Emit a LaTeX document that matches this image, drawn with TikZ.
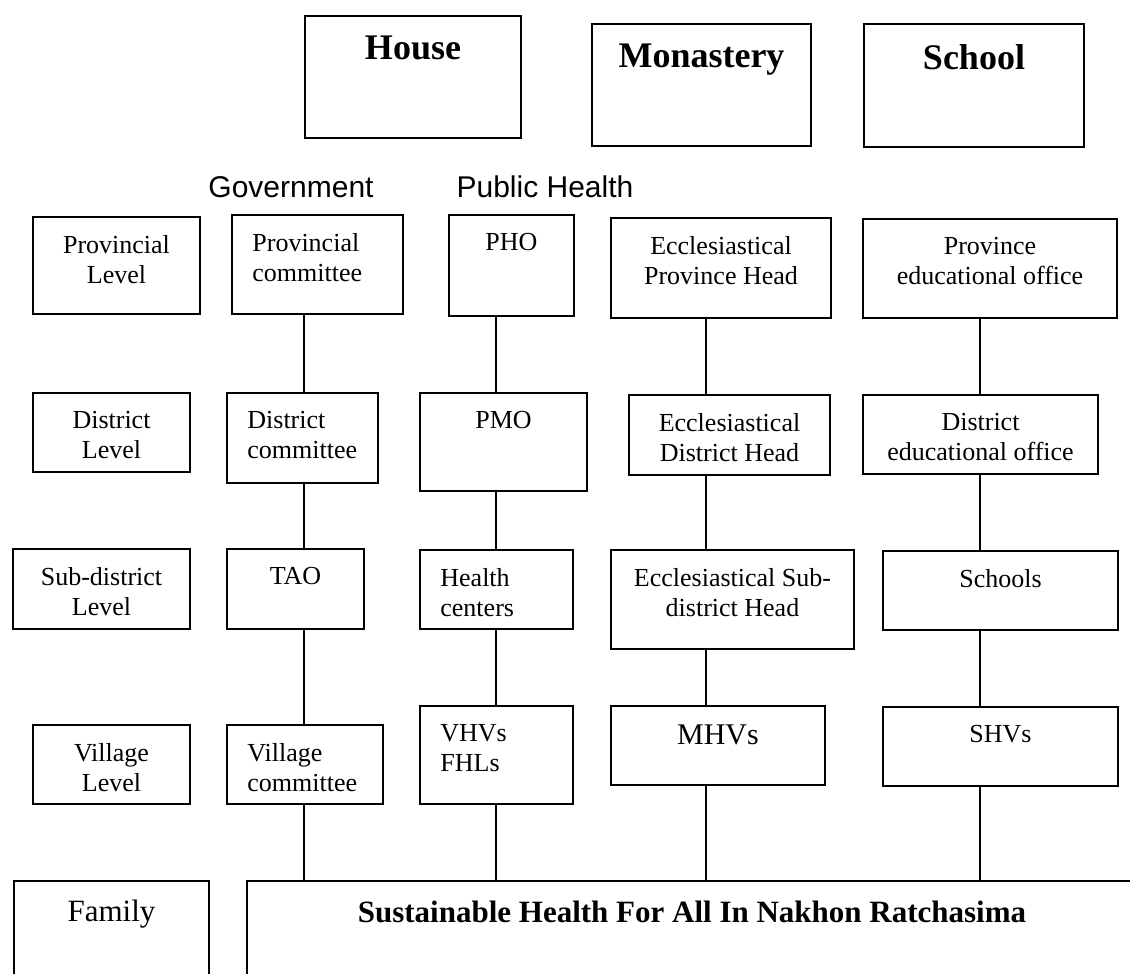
\documentclass[tikz,border=0pt]{standalone}
\usepackage{fontspec}
\setmainfont{Liberation Serif}
\newfontfamily\labelfont{Liberation Sans}
\usetikzlibrary{positioning,calc}

\begin{document}
\begin{tikzpicture}[x=0.5pt, y=-0.5pt,
		box/.style={draw, line width=1pt, inner sep=0pt, anchor=north west},
		txt/.style={font=\fontsize{13}{15}\selectfont, align=center, inner sep=0pt},
		toptext/.style={label={[txt, anchor=north, yshift=-9.5pt]north:{#1}}},
		lefttext/.style={label={[txt, align=left, anchor=north west, xshift=10.5pt, yshift=-9.5pt]north west:{#1}}},
		headtext/.style={label={[inner sep=0pt, font=\fontsize{18}{20}\selectfont\bfseries, anchor=north, yshift=-10.5pt]north:{#1}}},
		colhead/.style={inner sep=0pt, font=\labelfont\fontsize{15}{18}\selectfont},
		link/.style={line width=1pt}]
		\useasboundingbox (0,0) rectangle (1130,974);
		\clip (0,0) rectangle (1130,974);

		% places
		\node[box, minimum width=108pt, minimum height=61pt, headtext=House] (house) at (304,15) {};
		\node[box, minimum width=109.5pt, minimum height=61pt, headtext=Monastery] (monastery) at (591,23) {};
		\node[box, minimum width=110pt, minimum height=61.5pt, headtext=School] (school) at (863,23) {};

		\node[colhead] (gov) at (291,187) {Government};
		\node[colhead] (pubhealth) at (545,187) {Public Health};

		\coordinate (colgov) at (304,0);
		\coordinate (colph) at (496,0);
		\coordinate (colmon) at (706,0);
		\coordinate (colsch) at (980,0);

		% provincial
		\node[box, minimum width=83.5pt, minimum height=48.5pt, toptext={Provincial\\Level}] (provlevel) at (32,216) {};
		\node[box, minimum width=85.5pt, minimum height=49.5pt, lefttext={Provincial\\committee}] (provcomm) at (231,214) {};
		\node[box, minimum width=62.5pt, minimum height=50.5pt, toptext=PHO] (pho) at (448,214) {};
		\node[box, minimum width=110pt, minimum height=50pt, toptext={Ecclesiastical\\Province Head}] (ecclprov) at (610,217) {};
		\node[box, minimum width=127pt, minimum height=49.5pt, toptext={Province\\educational office}] (provedu) at (862,218) {};

		% district
		\node[box, minimum width=78.5pt, minimum height=39.5pt, toptext={District\\Level}] (distlevel) at (32,392) {};
		\node[box, minimum width=75.5pt, minimum height=45pt, lefttext={District\\committee}] (distcomm) at (226,392) {};
		\node[box, minimum width=83.5pt, minimum height=49pt, toptext=PMO] (pmo) at (419,392) {};
		\node[box, minimum width=100.5pt, minimum height=40pt, toptext={Ecclesiastical\\District Head}] (eccldist) at (628,394) {};
		\node[box, minimum width=117.5pt, minimum height=39.5pt, toptext={District\\educational office}] (distedu) at (862,394) {};

		% sub-district
		\node[box, minimum width=88.5pt, minimum height=40pt, toptext={Sub-district\\Level}] (sublevel) at (12,548) {};
		\node[box, minimum width=68.5pt, minimum height=40pt, toptext=TAO] (tao) at (226,548) {};
		\node[box, minimum width=76.5pt, minimum height=39.5pt, lefttext={Health\\centers}] (health) at (419,549) {};
		\node[box, minimum width=121.5pt, minimum height=49.5pt, toptext={Ecclesiastical Sub-\\district Head}] (subeccl) at (610,549) {};
		\node[box, minimum width=117.5pt, minimum height=39.5pt, toptext=Schools] (schools) at (882,550) {};

		% village
		\node[box, minimum width=78.5pt, minimum height=39.5pt, toptext={Village\\Level}] (villevel) at (32,724) {};
		\node[box, minimum width=78pt, minimum height=39.5pt, lefttext={Village\\committee}] (vilcomm) at (226,724) {};
		\node[box, minimum width=76.5pt, minimum height=49pt, lefttext={VHVs\\FHLs}] (vhv) at (419,705) {};
		\node[box, minimum width=107pt, minimum height=39.5pt, label={[txt, font=\fontsize{15}{18}\selectfont, anchor=north, yshift=-9.5pt]north:MHVs}] (mhv) at (610,705) {};
		\node[box, minimum width=117.5pt, minimum height=39.5pt, toptext=SHVs] (shv) at (882,706) {};

		% bottom
		\node[box, minimum width=97.5pt, minimum height=70pt, label={[txt, font=\fontsize{15.5}{18}\selectfont, anchor=north, yshift=-10pt]north:Family}] (family) at (13,880) {};
		\node[box, minimum width=445pt, minimum height=70pt, label={[inner sep=0pt, font=\fontsize{15.5}{18}\selectfont\bfseries, anchor=north, yshift=-10.5pt]north:Sustainable Health For All In Nakhon Ratchasima}] (sust) at (246,880) {};

		% government line
		\draw[link] (provcomm.south -| colgov) -- (distcomm.north -| colgov);
		\draw[link] (distcomm.south -| colgov) -- (tao.north -| colgov);
		\draw[link] (tao.south -| colgov) -- (vilcomm.north -| colgov);
		\draw[link] (vilcomm.south -| colgov) -- (sust.north -| colgov);

		% public health line
		\draw[link] (pho.south -| colph) -- (pmo.north -| colph);
		\draw[link] (pmo.south -| colph) -- (health.north -| colph);
		\draw[link] (health.south -| colph) -- (vhv.north -| colph);
		\draw[link] (vhv.south -| colph) -- (sust.north -| colph);

		% monastery line
		\draw[link] (ecclprov.south -| colmon) -- (eccldist.north -| colmon);
		\draw[link] (eccldist.south -| colmon) -- (subeccl.north -| colmon);
		\draw[link] (subeccl.south -| colmon) -- (mhv.north -| colmon);
		\draw[link] (mhv.south -| colmon) -- (sust.north -| colmon);

		% school line
		\draw[link] (provedu.south -| colsch) -- (distedu.north -| colsch);
		\draw[link] (distedu.south -| colsch) -- (schools.north -| colsch);
		\draw[link] (schools.south -| colsch) -- (shv.north -| colsch);
		\draw[link] (shv.south -| colsch) -- (sust.north -| colsch);
	\end{tikzpicture}
\end{document}
